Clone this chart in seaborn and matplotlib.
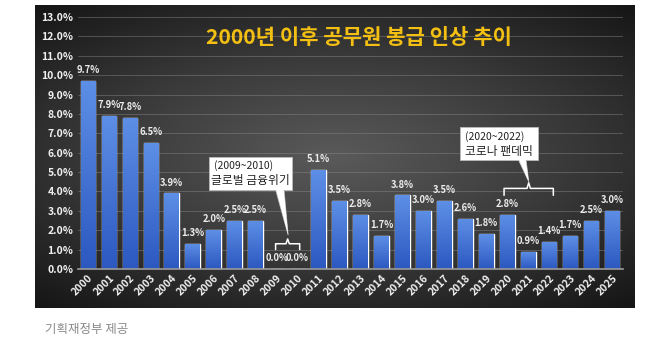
import numpy as np
import pandas as pd
import matplotlib
matplotlib.use("Agg")
import matplotlib.pyplot as plt
from matplotlib.patches import Rectangle, Polygon
import seaborn as sns

years = [str(y) for y in range(2000, 2026)]
raises = [9.7, 7.9, 7.8, 6.5, 3.9, 1.3, 2.0, 2.5, 2.5, 0.0, 0.0, 5.1, 3.5,
          2.8, 1.7, 3.8, 3.0, 3.5, 2.6, 1.8, 2.8, 0.9, 1.4, 1.7, 2.5, 3.0]
yticks = [float(v) for v in range(0, 14)]
title = "2000년 이후 공무원 봉급 인상 추이"
note1 = ("(2009~2010)", "글로벌 금융위기")
note2 = ("(2020~2022)", "코로나 팬데믹")
source = "기획재정부 제공"

sns.set_theme(style="dark")
plt.rcParams['font.family'] = ['Noto Sans CJK KR', 'DejaVu Sans']

df = pd.DataFrame({"year": years, "raise": raises})

fig = plt.figure(figsize=(6.70, 3.53), dpi=100)
fig.patch.set_facecolor("white")

# background panel with radial gradient
bg = fig.add_axes([35/670, 45/353, 600/670, 303/353])
yy, xx = np.mgrid[-1:1:300j, -1:1:600j]
r = np.sqrt((xx*0.85)**2 + (yy*1.0)**2)
grad = np.clip(1 - r/1.3, 0, 1)
bg.imshow(grad, cmap=matplotlib.colors.LinearSegmentedColormap.from_list(
    "g", ["#161616", "#3a3a3a", "#5a5a5a"]), aspect="auto",
    extent=[0, 1, 0, 1], vmin=0, vmax=1)
bg.set_axis_off()

ax = fig.add_axes([77.5/670, 84/353, 545/670, 252/353])
ax.set_facecolor("none")
sns.barplot(data=df, x="year", y="raise", color="#3f72d6", width=0.7,
            ax=ax, saturation=1, zorder=3)

# gradient fill on bars
cmap_bar = matplotlib.colors.LinearSegmentedColormap.from_list(
    "b", ["#2c58c0", "#5d8fe6"])
for p in ax.patches:
    x0, y0 = p.get_x(), p.get_y()
    w, h = p.get_width(), p.get_height()
    if h <= 0:
        continue
    im = ax.imshow(np.linspace(0, 1, 64).reshape(-1, 1), cmap=cmap_bar,
                   origin="lower", aspect="auto",
                   extent=[x0, x0 + w, y0, y0 + h], zorder=3.5)
    im.set_clip_path(p)

ax.set_xlim(-0.5, len(years) - 0.5)
ax.set_ylim(0, 13)
ax.set_yticks(yticks)
ax.set_yticklabels([f"{v:.1f}%" for v in yticks], color="#f0f0f0",
                   fontsize=7.5, fontweight="bold")
ax.set_xticks(range(len(years)))
ax.set_xticklabels(years, rotation=45, ha="right", rotation_mode="anchor",
                   color="#f0f0f0", fontsize=7.5, fontweight="bold")
ax.tick_params(axis="both", length=0, pad=3)
ax.set_xlabel("")
ax.set_ylabel("")
for s in ["top", "right", "left"]:
    ax.spines[s].set_visible(False)
ax.spines["bottom"].set_color("#9a9a9a")
ax.spines["bottom"].set_linewidth(1.2)
ax.spines["bottom"].set_zorder(5)
ax.grid(axis="y", color="#8a8a8a", alpha=0.45, linewidth=0.7, zorder=1)
ax.set_axisbelow(True)

for i, v in enumerate(raises):
    ax.text(i, v + 0.3, f"{v:.1f}%", ha="center", va="bottom",
            fontsize=6.8, fontweight="bold", color="#ececec", zorder=6)

def brace(ax, xa, xb, ybase, ytop):
    xm = (xa + xb) / 2
    ymid = ybase + (ytop - ybase) * 0.55
    ax.plot([xa, xa, xm - 0.08, xm, xm + 0.08, xb, xb],
            [ybase, ymid, ymid, ytop, ymid, ymid, ybase],
            color="white", lw=1.1, zorder=6, solid_joinstyle="round")

brace(ax, 8.95, 10.1, 1.0, 1.55)
brace(ax, 19.85, 22.2, 3.8, 4.45)

def callout(ax, lines, xt, yt, w, tail_x0, tail_x1, tip):
    ybot = yt - 0.85
    ax.add_patch(Rectangle((xt - w / 2, ybot), w, 1.7, fc="white",
                           ec="#bbbbbb", lw=0.6, zorder=8))
    ax.add_patch(Polygon([(tail_x0, ybot), tip, (tail_x1, ybot)], closed=True,
                         fc="white", ec="#bbbbbb", lw=0.6, zorder=7))
    ax.add_patch(Polygon([(tail_x0 + 0.02, ybot + 0.03), tip,
                          (tail_x1 - 0.02, ybot + 0.03)], closed=True,
                         fc="white", ec="none", zorder=8.5))
    ax.text(xt - w / 2 + 0.25, yt + 0.4, lines[0], ha="left", va="center",
            fontsize=7.5, color="#222222", zorder=9)
    ax.text(xt, yt - 0.4, lines[1], ha="center", va="center",
            fontsize=8.5, color="#222222", zorder=9)

callout(ax, note1, 7.75, 4.95, 4.0, 8.95, 9.35, (9.55, 1.75))
callout(ax, note2, 19.6, 6.45, 3.7, 20.55, 20.9, (21.03, 4.5))

fig.text(0.535, 0.893, title, ha="center", va="center", fontsize=15.2,
         fontweight="heavy", color="#f2bf12")
fig.text(45/670, 1 - 330/353, source, ha="left", va="center", fontsize=9,
         color="#8a8a8a")

fig.savefig("out.png", dpi=100, facecolor="white")
